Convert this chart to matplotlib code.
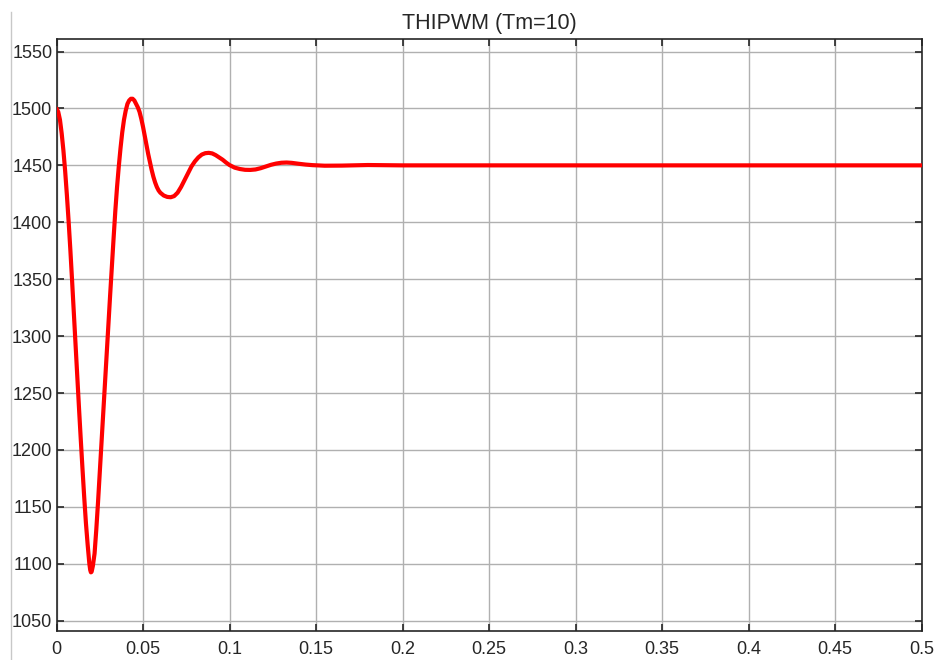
import matplotlib
matplotlib.use("Agg")
import matplotlib.pyplot as plt
from matplotlib.lines import Line2D

time = [0, 0.001, 0.002, 0.003, 0.004, 0.005, 0.006, 0.007, 0.008, 0.009,
        0.010, 0.011, 0.012, 0.013, 0.014, 0.015, 0.016, 0.017, 0.018, 0.019,
        0.0195, 0.0199, 0.0203, 0.021, 0.022, 0.023, 0.024, 0.025, 0.026, 0.027,
        0.028, 0.029, 0.030, 0.031, 0.032, 0.033, 0.034, 0.035, 0.036, 0.037,
        0.038, 0.039, 0.040, 0.041, 0.042, 0.043, 0.044, 0.045, 0.046, 0.047,
        0.048, 0.049, 0.050, 0.051, 0.052, 0.053, 0.054, 0.055, 0.056, 0.057,
        0.058, 0.059, 0.060, 0.062, 0.064, 0.066, 0.068, 0.070, 0.072, 0.074,
        0.076, 0.078, 0.080, 0.082, 0.084, 0.086, 0.088, 0.090, 0.092, 0.094,
        0.096, 0.098, 0.100, 0.103, 0.106, 0.109, 0.112, 0.115, 0.118, 0.121,
        0.124, 0.127, 0.130, 0.133, 0.136, 0.140, 0.144, 0.148, 0.155, 0.165,
        0.18, 0.2, 0.5]
speed = [1500, 1497, 1490, 1478, 1463, 1445, 1424, 1401, 1376, 1349,
         1321, 1293, 1265, 1237, 1210, 1184, 1159, 1136, 1117, 1100,
         1094.5, 1092.5, 1093, 1098, 1109, 1130, 1154, 1180, 1206, 1232,
         1258, 1284, 1310, 1336, 1361, 1386, 1410, 1431, 1449, 1465,
         1479, 1490, 1498, 1504, 1507, 1508.5, 1508.5, 1507, 1504, 1501,
         1497, 1491, 1484, 1476, 1468, 1460, 1453, 1446, 1440, 1435,
         1431, 1428, 1426, 1423.5, 1422.3, 1422, 1423, 1426, 1431, 1437,
         1443, 1449, 1453.5, 1457, 1459.5, 1460.7, 1461, 1460.5, 1459, 1457,
         1455, 1452.5, 1450.3, 1448, 1446.8, 1446.1, 1446, 1446.4, 1447.5, 1449,
         1450.5, 1451.6, 1452.3, 1452.5, 1452.2, 1451.4, 1450.7, 1450.2, 1449.7, 1449.8,
         1450.3, 1450, 1450]

xticks = [0, 0.05, 0.1, 0.15, 0.2, 0.25, 0.3, 0.35, 0.4, 0.45, 0.5]
xticklabels = ["0", "0.05", "0.1", "0.15", "0.2", "0.25", "0.3", "0.35", "0.4", "0.45", "0.5"]
yticks = [1050, 1100, 1150, 1200, 1250, 1300, 1350, 1400, 1450, 1500, 1550]
title = "THIPWM (Tm=10)"

plt.rcParams['font.family'] = ['Liberation Sans', 'DejaVu Sans']

fig = plt.figure(figsize=(9.49, 6.60), dpi=100)
ax = fig.add_axes([56.5/949, 29/660, 865/949, 592/660])

ax.plot(time, speed, color='#ff0000', linewidth=3.0, solid_joinstyle='round',
        solid_capstyle='round', zorder=3)

ax.set_xlim(0, 0.5)
ax.set_ylim(1041, 1561)
ax.set_xticks(xticks)
ax.set_xticklabels(xticklabels)
ax.set_yticks(yticks)
ax.grid(True, color='#b0b0b0', linewidth=1.0)
ax.tick_params(direction='in', length=5, width=1.2, top=True, right=True,
               labelsize=13, colors='#262626')
ax.tick_params(axis='y', pad=3)
ax.tick_params(axis='x', pad=7)
for s in ax.spines.values():
    s.set_linewidth(1.2)
    s.set_color('#262626')
ax.set_title(title, fontsize=15.5, color='#262626', pad=7)

fig.add_artist(Line2D([11/949, 11/949], [0, 1 - 12/660], color='#c8c8c8', linewidth=1.0))

fig.savefig("out.png", dpi=100)
